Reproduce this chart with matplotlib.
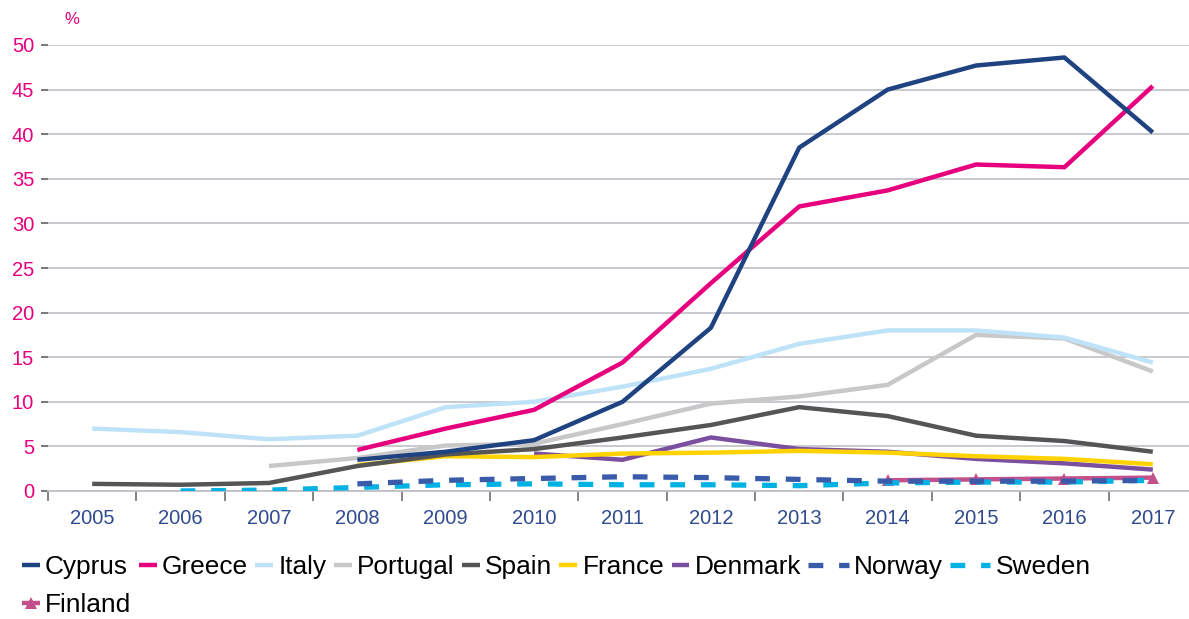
import matplotlib
matplotlib.use('Agg')
import matplotlib.pyplot as plt
import numpy as np
from matplotlib.legend_handler import HandlerLine2D
from matplotlib.ticker import FixedLocator, NullFormatter, FixedFormatter

plt.rcParams['font.family'] = ['Liberation Sans', 'DejaVu Sans']

nan = np.nan
years = ['2005', '2006', '2007', '2008', '2009', '2010', '2011',
         '2012', '2013', '2014', '2015', '2016', '2017']
cyprus = [nan, nan, nan, 3.5, 4.4, 5.7, 10.0, 18.3, 38.5, 45.0, 47.7, 48.6, 40.2]
greece = [nan, nan, nan, 4.6, 7.0, 9.1, 14.4, 23.3, 31.9, 33.7, 36.6, 36.3, 45.4]
italy = [7.0, 6.6, 5.8, 6.2, 9.4, 10.0, 11.7, 13.7, 16.5, 18.0, 18.0, 17.2, 14.4]
portugal = [nan, nan, 2.8, 3.7, 5.1, 5.3, 7.5, 9.8, 10.6, 11.9, 17.5, 17.1, 13.4]
spain = [0.8, 0.7, 0.9, 2.8, 4.1, 4.7, 6.0, 7.4, 9.4, 8.4, 6.2, 5.6, 4.4]
france = [nan, nan, nan, 2.9, 3.9, 3.8, 4.2, 4.3, 4.5, 4.3, 3.9, 3.6, 3.0]
denmark = [nan, nan, nan, nan, nan, 4.2, 3.5, 6.0, 4.7, 4.4, 3.6, 3.1, 2.4]
norway = [nan, nan, nan, 0.8, 1.2, 1.4, 1.6, 1.5, 1.3, 1.1, 1.1, 1.1, 1.2]
sweden = [nan, 0.0, 0.1, 0.4, 0.7, 0.8, 0.7, 0.7, 0.6, 0.9, 1.0, 1.0, 1.2]
finland = [nan, nan, nan, nan, nan, nan, nan, nan, nan, 1.2, 1.3, 1.4, 1.5]

series = [
    ('Cyprus', cyprus, '#1F4280', 'solid'),
    ('Greece', greece, '#E6007E', 'solid'),
    ('Italy', italy, '#BEE3F8', 'solid'),
    ('Portugal', portugal, '#C8C8C8', 'solid'),
    ('Spain', spain, '#555555', 'solid'),
    ('France', france, '#FFD200', 'solid'),
    ('Denmark', denmark, '#7B4FA0', 'solid'),
    ('Norway', norway, '#3A5BAA', 'dashed'),
    ('Sweden', sweden, '#00B2E3', 'dashed'),
    ('Finland', finland, '#C3508A', 'marker'),
]

W, H = 1189, 619
fig = plt.figure(figsize=(W / 100, H / 100), dpi=100)
ax = fig.add_axes([48 / W, (H - 491) / H, 1 - 48 / W, (491 - 45) / H])

x = np.arange(len(years))
n = len(series)
handles = []
for i, (name, vals, col, style) in enumerate(series):
    z = 10 + (n - i)
    if style == 'solid':
        ln, = ax.plot(x, vals, color=col, lw=3.2, zorder=z, label=name,
                      solid_capstyle='butt', solid_joinstyle='round')
    elif style == 'dashed':
        ln, = ax.plot(x, vals, color=col, lw=3.8, zorder=z, label=name,
                      dashes=(2.8, 3.0), dash_capstyle='butt')
    else:
        ln, = ax.plot(x, vals, color=col, lw=3.2, zorder=z, label=name,
                      marker='^', markersize=9, markeredgewidth=0,
                      solid_capstyle='butt')
    handles.append(ln)

ax.set_ylim(0, 50)
ax.set_xlim(-0.5, (W - 92) / 88.4)
ax.yaxis.set_major_locator(FixedLocator(np.arange(0, 51, 5)))
ax.grid(axis='y', color='#C4C4CC', lw=1.3, zorder=1)
ax.set_axisbelow(True)

for s in ['left', 'right', 'top']:
    ax.spines[s].set_visible(False)
ax.spines['bottom'].set_color('#BFBFC6')
ax.spines['bottom'].set_linewidth(1.3)
ax.spines['bottom'].set_zorder(2)

ax.tick_params(axis='y', which='major', length=5, width=1.3, color='#6E6E6E',
               labelcolor='#E6007E', labelsize=14.5, pad=5)

ax.xaxis.set_major_locator(FixedLocator(np.arange(-0.5, len(years), 1.0)))
ax.xaxis.set_major_formatter(NullFormatter())
ax.xaxis.set_minor_locator(FixedLocator(x))
ax.xaxis.set_minor_formatter(FixedFormatter(years))
ax.tick_params(axis='x', which='major', length=7, width=1.2, color='#6E6E6E')
ax.tick_params(axis='x', which='minor', length=0, labelsize=14.5,
               labelcolor='#2F4B8E', pad=13)

fig.text(72 / W, 1 - 20 / H, '%', color='#E6007E', fontsize=12,
         ha='center', va='center')


class WideHandler(HandlerLine2D):
    def __init__(self, factor, **kw):
        super().__init__(**kw)
        self.factor = factor

    def legend_artist(self, legend, orig_handle, fontsize, handlebox):
        handlebox.width *= self.factor
        return super().legend_artist(legend, orig_handle, fontsize, handlebox)


# matplotlib fills legend column-wise; order so that it reads row-wise
order = [0, 9, 1, 2, 3, 4, 5, 6, 7, 8]
leg_handles = [handles[k] for k in order]
leg_labels = [series[k][0] for k in order]
hmap = {handles[7]: WideHandler(2.25), handles[8]: WideHandler(2.25)}
leg = fig.legend(handles=leg_handles, labels=leg_labels,
                 loc='upper left', bbox_to_anchor=(22 / W, 1 - 555 / H),
                 bbox_transform=fig.transFigure, ncol=9, frameon=False,
                 fontsize=18.9, handlelength=0.68, handletextpad=0.2,
                 columnspacing=0.28, labelspacing=0.55, borderpad=0,
                 borderaxespad=0, numpoints=1, handler_map=hmap)

fig.savefig('out.png', dpi=100)
